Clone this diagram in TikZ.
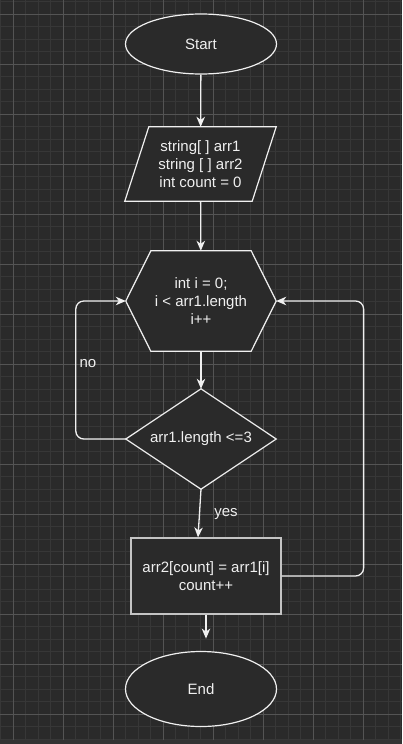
\documentclass[tikz,border=0pt]{standalone}
\usepackage{fontspec}
\setmainfont{Liberation Sans}
\usetikzlibrary{shapes.geometric,arrows.meta,calc}
\pgfdeclarelayer{gridlayer}
\pgfdeclarelayer{shapelayer}
\pgfsetlayers{gridlayer,shapelayer,main}
\definecolor{bg}{HTML}{2A2A2A}
\definecolor{minorgrid}{HTML}{373737}
\definecolor{majorgrid}{HTML}{545454}
\definecolor{ink}{HTML}{F0F0F0}
\definecolor{rectedge}{HTML}{C4C4C4}
\definecolor{bottomband}{HTML}{333333}
\begin{document}
\begin{tikzpicture}[x=1pt,y=-1pt,
  every node/.style={text=ink, font=\fontsize{15}{18}\selectfont, align=center, inner sep=0pt},
  shapeline/.style={draw=ink, line width=1.2pt, fill=bg},
  conn/.style={draw=ink, line width=1.3pt, -{Stealth[length=10pt,width=8.5pt,inset=3pt]}},
  loopconn/.style={conn, rounded corners=8pt}]
\useasboundingbox (0,0) rectangle (402,744);
\begin{pgfonlayer}{gridlayer}
  \fill[bg] (0,0) rectangle (402,744);
  \foreach \i in {0,...,32} {\draw[minorgrid, line width=0.8pt] ({0.5+12.5*\i},0) -- ({0.5+12.5*\i},740);}
  \foreach \i in {0,...,59} {\draw[minorgrid, line width=0.8pt] (0,{1.5+12.5*\i}) -- (402,{1.5+12.5*\i});}
  \foreach \i in {0,...,7} {\draw[majorgrid, line width=1pt] ({13+50*\i},0) -- ({13+50*\i},740);}
  \foreach \i in {0,...,14} {\draw[majorgrid, line width=1pt] (0,{14+50*\i}) -- (402,{14+50*\i});}
  \fill[bottomband] (0,740) rectangle (402,744);
\end{pgfonlayer}

\node[shapeline, ellipse, minimum width=151pt, minimum height=60pt] (start) at (201,44) {Start};
\node[minimum width=127pt, minimum height=74pt] (input) at (200.5,164) {string[ ] arr1\\string [ ] arr2\\int count = 0};
\node[minimum width=150pt, minimum height=100pt] (loop) at (201,301) {int i = 0;\\i < arr1.length\\i++};
\node[minimum width=150pt, minimum height=100pt] (cond) at (201,439) {arr1.length <=3};
\node[draw=rectedge, line width=1.2pt, fill=bg, minimum width=150pt, minimum height=76pt] (body) at (206,576) {arr2[count] = arr1[i]\\count++};
\node[shapeline, ellipse, minimum width=151pt, minimum height=75pt] (end) at (201,689) {End};

\begin{pgfonlayer}{shapelayer}
  \draw[shapeline] ($(input.north west)+(12,0)$) -- ($(input.north east)+(12,0)$)
    -- ($(input.south east)+(-12,0)$) -- ($(input.south west)+(-12,0)$) -- cycle;
  \draw[shapeline] ($(loop.north west)+(25,0)$) -- ($(loop.north east)+(-25,0)$) -- (loop.east)
    -- ($(loop.south east)+(-25,0)$) -- ($(loop.south west)+(25,0)$) -- (loop.west) -- cycle;
  \draw[shapeline] (cond.north) -- (cond.east) -- (cond.south) -- (cond.west) -- cycle;
\end{pgfonlayer}

\node (nolabel) at (88,364) {no};
\node (yeslabel) at (226,514) {yes};

\coordinate (bodyin) at ($(body.north)+(-8,0)$);
\coordinate (endin) at ($(body.south)+(0,24)$);

\draw[conn] (start) -- (input);
\draw[conn] (input) -- (loop);
\draw[conn] (loop) -- (cond);
\draw[loopconn] (cond.west) -- ++(-50,0) |- (loop.west);
\draw[conn] (cond.south) -- (bodyin);
\draw[loopconn] (body.east) -- ++(82,0) |- (loop.east);
\draw[conn] (body.south) -- (endin);
\end{tikzpicture}
\end{document}
